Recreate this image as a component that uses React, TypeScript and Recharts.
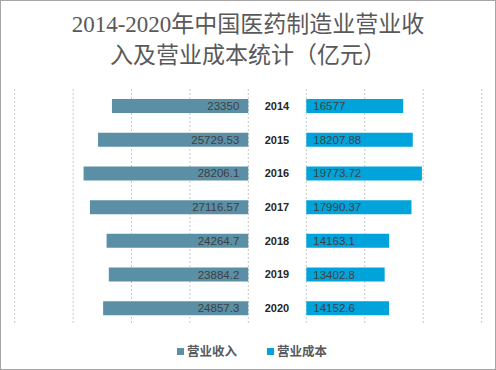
import * as React from "react";
import { Bar, BarChart, CartesianGrid, LabelList, XAxis, YAxis } from "recharts";

const years = ["2014", "2015", "2016", "2017", "2018", "2019", "2020"];
const revenue = [23350, 25729.53, 28206.1, 27116.57, 24264.7, 23884.2, 24857.3];
const cost = [16577, 18207.88, 19773.72, 17990.37, 14163.1, 13402.8, 14152.6];
const leftTicks = [0, 10000, 20000, 30000, 40000];
const rightTicks = [0, 10000, 20000, 30000];

const data = years.map((year, i) => ({ year, revenue: revenue[i], cost: cost[i] }));

const REV_COLOR = "#5A8FA5";
const COST_COLOR = "#00A3DA";
const LABEL_FONT = "'Liberation Sans', Arial, sans-serif";

function LeftLabel(props: any) {
  const { x, y, width, height, value } = props;
  const right = Math.max(x, x + width);
  return (
    <text x={right - 9} y={y + height / 2} dy={4} textAnchor="end" fontSize={11.5} fontFamily={LABEL_FONT} fill="#404040">
      {value}
    </text>
  );
}

function RightLabel(props: any) {
  const { x, y, width, height, value } = props;
  const left = Math.min(x, x + width);
  return (
    <text x={left + 7} y={y + height / 2} dy={4} textAnchor="start" fontSize={11.5} fontFamily={LABEL_FONT} fill="#404040">
      {value}
    </text>
  );
}

function YearTick(props: any) {
  const { y, payload } = props;
  return (
    <text x={29} y={y} dy={4} textAnchor="middle" fontSize={11} fontWeight="bold" fontFamily={LABEL_FONT} fill="#262626">
      {payload.value}
    </text>
  );
}

export default function App() {
  return (
    <div
      style={{
        position: "relative",
        width: 496,
        height: 370,
        boxSizing: "border-box",
        border: "1px solid #a6a6a6",
        background: "#fff",
        overflow: "hidden",
      }}
    >
      <style>{"body{margin:0}"}</style>
      <div
        style={{
          position: "absolute",
          top: 8,
          left: 0,
          width: 494,
          textAlign: "center",
          fontFamily: "'Liberation Serif', 'Noto Sans CJK SC', serif",
          fontSize: 23,
          lineHeight: "31px",
          color: "#595959",
        }}
      >
        2014-2020年中国医药制造业营业收
        <br />
        入及营业成本统计（亿元）
      </div>

      <div style={{ position: "absolute", left: -1, top: -1 }}>
        <BarChart
          width={250}
          height={370}
          data={data}
          layout="vertical"
          margin={{ top: 89, bottom: 45, left: 14.7, right: 1.7 }}
        >
          <CartesianGrid horizontal={false} stroke="#c8c8c8" strokeDasharray="2 2" />
          <XAxis type="number" domain={[0, 40000]} ticks={leftTicks} reversed hide />
          <YAxis type="category" dataKey="year" hide />
          <Bar dataKey="revenue" fill={REV_COLOR} barSize={14} isAnimationActive={false}>
            <LabelList dataKey="revenue" content={<LeftLabel />} />
          </Bar>
        </BarChart>
      </div>

      <div style={{ position: "absolute", left: 247, top: -1 }}>
        <BarChart
          width={248}
          height={370}
          data={data}
          layout="vertical"
          margin={{ top: 89, bottom: 45, left: 0, right: 14.3 }}
        >
          <CartesianGrid horizontal={false} stroke="#c8c8c8" strokeDasharray="2 2" />
          <XAxis type="number" domain={[0, 30000]} ticks={rightTicks} hide />
          <YAxis type="category" dataKey="year" width={58.3} axisLine={false} tickLine={false} tick={<YearTick />} />
          <Bar dataKey="cost" fill={COST_COLOR} barSize={14} isAnimationActive={false}>
            <LabelList dataKey="cost" content={<RightLabel />} />
          </Bar>
        </BarChart>
      </div>

      <div
        style={{
          position: "absolute",
          top: 341,
          left: 0,
          width: 494,
          display: "flex",
          justifyContent: "center",
          fontFamily: "'Noto Sans CJK SC', sans-serif",
          fontSize: 12.5,
          fontWeight: "bold",
          color: "#595959",
          lineHeight: "18px",
        }}
      >
        <div style={{ display: "flex", alignItems: "center", marginLeft: 8 }}>
          <span style={{ width: 7, height: 7, background: REV_COLOR, marginRight: 3 }} />
          营业收入
        </div>
        <div style={{ display: "flex", alignItems: "center", marginLeft: 30 }}>
          <span style={{ width: 7, height: 7, background: COST_COLOR, marginRight: 3 }} />
          营业成本
        </div>
      </div>
    </div>
  );
}
